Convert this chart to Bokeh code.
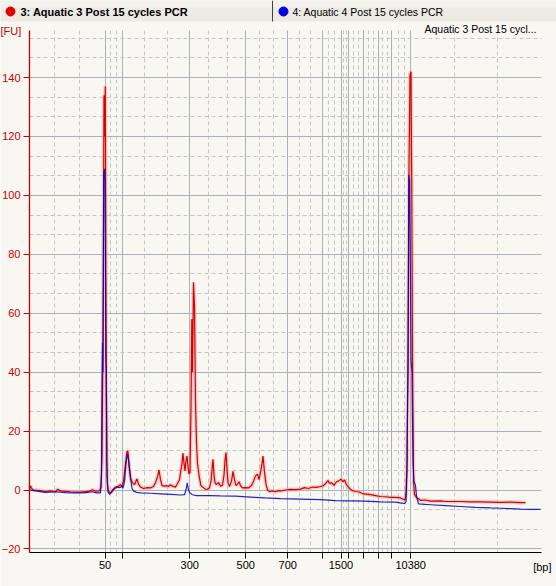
from bokeh.plotting import figure
from bokeh.models import FixedTicker, Range1d, CustomJSTickFormatter
from bokeh.embed import file_html
from bokeh.resources import INLINE
from bokeh.core.properties import value

# ---------------- data ----------------
# migration time in arbitrary units (time axis of the electropherogram)
ladder_time = [104.5, 121.5, 189.2, 245.3, 287.3, 321.7, 340.5, 348.3, 362.7, 377.5, 391.2, 410.2]
ladder_bp = ["50", "100", "300", "500", "700", "1000", "1500", "2000", "3000", "5000", "7000", "10380"]
shown_bp = ["50", "300", "500", "700", "1500", "10380"]

fu_ticks = [-20, 0, 20, 40, 60, 80, 100, 120, 140]

red_time = [29, 30, 31, 33, 40, 45, 50, 55, 57, 60, 70, 80, 88, 92, 95, 99,
            100.5, 101.5, 102.5, 103.5, 104.2, 104.8, 105.5, 106.3, 107, 108, 110, 112, 115, 118, 120,
            121.5, 123, 125, 126.5, 127.5, 128.5, 130, 132, 134, 136.5, 138, 140, 143, 147, 150, 153,
            155, 157, 158.5, 160, 161.5, 164, 166, 168, 170, 172, 175, 177, 179, 180.5, 181.5, 182.5,
            183.5, 184.5, 185.5, 186.5, 187.5, 188.5, 189.5, 190.5, 191.3, 192, 193, 194, 195, 196, 197,
            198.5, 200.5, 203, 205, 207, 209, 210.5, 211.5, 212.5, 213.5, 214.5, 216, 218, 220, 222,
            223.5, 224.5, 225.5, 226.5, 227.5, 229, 231, 232.5, 234, 235.5, 237, 238.5, 240, 242, 245,
            248, 251, 253, 255, 257, 258.5, 260, 261.5, 262.5, 264, 265.5, 267, 269, 272, 275, 278, 281,
            285, 290, 295, 300, 304, 308, 312, 316, 320, 323, 325, 327.5, 329, 331, 333.5, 336, 338,
            340.5, 342.5, 344, 346, 348, 350, 352, 355, 358, 362, 366, 370, 375, 380, 385, 390, 395, 400,
            403, 404.5, 405.5, 406.5, 407.5, 408.5, 409.5, 410.5, 411.3, 412, 413, 414, 416, 418, 420,
            425, 430, 440, 445, 450, 460, 470, 480, 490, 500, 510, 520, 525]
red_fu = [0.3, 1.5, 0.5, 0.0, -0.2, -0.5, -0.3, -0.6, 0.2, -0.3, -0.6, -0.7, -0.5, 0.1, -0.4, -0.3,
          1.0, 12.0, 50.0, 134.0, 120.0, 137.0, 60.0, 10.0, 1.5, -0.5, -1.0, 0.0, 1.0, 1.3, 1.8,
          1.2, 3.0, 9.0, 13.2, 13.0, 8.0, 4.0, 2.5, 1.8, 3.8, 2.0, 1.0, 0.5, 0.8, 0.7, 1.2,
          2.5, 4.5, 6.8, 3.5, 1.5, 1.3, 1.5, 1.2, 1.8, 1.3, 1.0, 2.2, 3.5, 7.0, 9.0, 12.5,
          9.0, 6.5, 10.0, 11.5, 8.0, 5.5, 6.0, 28.0, 58.0, 40.0, 70.5, 62.0, 30.0, 16.0, 9.0,
          5.0, 1.4, 0.8, 0.2, 0.3, 0.7, 3.0, 7.0, 10.4, 5.0, 2.5, 1.8, 2.6, 1.3, 1.6,
          5.0, 10.0, 12.7, 7.0, 2.5, 1.2, 3.0, 6.3, 3.5, 1.5, 2.0, 2.8, 1.5, 0.7, 0.8,
          0.7, 1.5, 3.0, 4.8, 5.4, 3.5, 6.0, 9.0, 11.5, 6.0, 2.0, 0.0, -0.5, -0.3, -0.6, -0.2, -0.3,
          0.0, 0.2, 0.1, 0.3, 0.8, 0.5, 1.0, 0.9, 1.2, 1.5, 2.2, 3.2, 2.2, 2.5, 1.6, 2.8, 3.0,
          3.7, 2.8, 3.4, 1.8, 1.0, 0.2, -0.2, -0.5, -0.6, -1.2, -1.4, -1.6, -1.9, -2.2, -2.3, -2.5, -2.5, -2.7,
          -3.2, -3.4, -1.0, 10.0, 40.0, 110.0, 141.0, 142.0, 100.0, 45.0, 3.0, -1.5, -2.6, -3.0, -3.5,
          -3.4, -3.8, -3.7, -3.9, -3.9, -3.9, -4.0, -4.0, -4.1, -4.2, -4.1, -4.3, -4.3]

blue_time = [29, 35, 45, 55, 65, 75, 85, 92, 96, 100, 101, 101.5, 102, 102.5, 103.3, 104, 104.6,
             105.3, 105.8, 106.5, 107.5, 109, 111, 114, 117, 119, 121, 122.5, 124, 125.5, 127, 128.3,
             129.5, 130.5, 131.5, 133, 136, 140, 150, 160, 170, 180, 184, 185.5, 186.7, 188, 189.5,
             192, 196, 210, 220, 235, 250, 265, 280, 300, 320, 335, 350, 365, 380, 395, 404, 405.5,
             406.5, 407, 407.5, 408.3, 409, 409.8, 410.5, 411.5, 412.5, 413.5, 415, 416, 418, 425,
             430, 445, 460, 475, 490, 500, 510, 520, 530, 540]
blue_fu = [0.0, -0.3, -0.8, -0.6, -0.9, -1.0, -0.9, -0.6, -1.0, -1.0, 5.0, 37.0, 50.0, 40.0, 108.0, 109.0, 105.0,
           45.0, 40.0, 5.0, -0.5, -1.5, -0.8, 0.5, 1.0, 0.8, 1.2, 0.6, 3.0, 9.0, 12.3, 10.0,
           6.0, 3.0, 0.5, -0.3, -0.8, -1.0, -1.1, -1.3, -1.5, -1.7, -1.6, 0.0, 2.4, 0.0, -1.0,
           -1.6, -1.9, -1.9, -2.0, -2.1, -2.4, -2.7, -2.9, -3.1, -3.3, -3.6, -3.7, -3.8, -4.0, -4.1, -4.6, -4.0,
           6.0, 30.0, 42.0, 107.0, 105.0, 80.0, 44.0, 40.0, 10.0, 3.0, 1.5, -2.0, -4.7, -4.9,
           -5.0, -5.3, -5.6, -5.9, -6.1, -6.2, -6.3, -6.5, -6.6, -6.6]

tab_labels = ["3: Aquatic 3 Post 15 cycles PCR", "4: Aquatic 4 Post 15 cycles PCR"]
panel_title = "Aquatic 3 Post 15 cycl..."

# ---------------- layout / style ----------------
W, H = 556, 586
PX_PER_FU = 2.946
ZERO_Y = 489.5


def fy(py):
    """vertical page position (px from top) -> FU value"""
    return (ZERO_Y - py) / PX_PER_FU


X0, X1 = 29, 541            # plot area (time units)
YB0, YB1 = fy(552), fy(30)  # plot area (FU)

FONT = "Liberation Sans"
RED = "#D60000"
AXIS_RED = "#C80000"
BLUE = "#0000B8"
BG = "#F8F7F2"
TAB_BG = "#ECEAE3"

# minor (dashed) grid positions: thirds between neighbouring major lines
xb = [X0] + ladder_time + [X1]
x_minor = []
for a, b in zip(xb[:-1], xb[1:]):
    x_minor += [a + (b - a) / 3.0, a + 2 * (b - a) / 3.0]
yb = fu_ticks + [160]
y_minor = []
for a, b in zip(yb[:-1], yb[1:]):
    y_minor += [a + (b - a) / 3.0, a + 2 * (b - a) / 3.0]
y_minor = [v for v in y_minor if v < YB1]

p = figure(width=W, height=H, x_range=Range1d(0, W), y_range=Range1d(fy(H), fy(0)),
           output_backend="svg", toolbar_location=None,
           min_border=0, min_border_left=0, min_border_right=0,
           min_border_top=0, min_border_bottom=0)
p.outline_line_color = None
p.background_fill_color = BG
p.border_fill_color = BG

xt = FixedTicker(ticks=ladder_time, minor_ticks=x_minor)
yt = FixedTicker(ticks=fu_ticks, minor_ticks=y_minor)
p.xaxis.ticker = xt
p.xgrid.ticker = xt
p.yaxis.ticker = yt
p.ygrid.ticker = yt

p.xaxis.fixed_location = YB0
p.yaxis.fixed_location = X0
p.xaxis.bounds = (X0, X1)
p.yaxis.bounds = (YB0, YB1)
p.xgrid.bounds = (X0, X1)
p.xgrid.cross_bounds = (YB0, YB1)
p.ygrid.bounds = (YB0, YB1)
p.ygrid.cross_bounds = (X0, X1)

labels = [b if b in shown_bp else "" for b in ladder_bp]
p.xaxis.formatter = CustomJSTickFormatter(args=dict(lpos=ladder_time, labs=labels), code="""
    let best = 0, d = 1e9;
    for (let i = 0; i < lpos.length; i++) {
        const dd = Math.abs(lpos[i] - tick);
        if (dd < d) { d = dd; best = i; }
    }
    return d < 0.5 ? labs[best] : "";
""")

for g in (p.xgrid, p.ygrid):
    g.grid_line_color = "#A9B1BD"
    g.grid_line_width = 1
    g.minor_grid_line_color = "#C6C6C2"
    g.minor_grid_line_dash = "4 3"
    g.minor_grid_line_width = 1

p.xaxis.axis_line_color = "black"
p.xaxis.major_tick_line_color = "black"
p.xaxis.major_tick_out = 6
p.xaxis.major_tick_in = 0
p.xaxis.minor_tick_line_color = None
p.xaxis.major_label_text_font = FONT
p.xaxis.major_label_text_font_size = "11px"
p.xaxis.major_label_text_color = "black"
p.xaxis.major_label_standoff = 2

p.yaxis.axis_line_color = AXIS_RED
p.yaxis.axis_line_width = 1.3
p.yaxis.major_tick_line_color = AXIS_RED
p.yaxis.major_tick_out = 6
p.yaxis.major_tick_in = 0
p.yaxis.minor_tick_line_color = None
p.yaxis.major_label_text_font = FONT
p.yaxis.major_label_text_font_size = "11px"
p.yaxis.major_label_text_color = AXIS_RED
p.yaxis.major_label_standoff = 3

# traces
p.line(red_time, red_fu, line_color="#F29A9A", line_width=4, line_alpha=0.45)
p.line(red_time, red_fu, line_color=RED, line_width=1.2)
p.line(blue_time, blue_fu, line_color=BLUE, line_width=1.2, line_alpha=0.85)

# tab bar at the top
p.quad(left=[0], right=[W], top=[fy(0)], bottom=[fy(21)], fill_color=TAB_BG, line_color=None)
p.quad(left=[0], right=[W], top=[fy(0)], bottom=[fy(7)], fill_color="#F2F1EC", line_color=None)
p.segment(x0=[272], y0=[fy(0)], x1=[272], y1=[fy(21)], line_color="#404040", line_width=1)
p.scatter(x=[10, 283], y=[fy(11), fy(11)], size=9, color=["#E00000", "#0000E0"])
p.text(x=[20], y=[fy(11)], text=[tab_labels[0]], text_font=value(FONT),
       text_font_size="11px", text_font_style="bold", text_baseline="middle", text_color="black")
p.text(x=[292], y=[fy(11)], text=[tab_labels[1]], text_font=value(FONT),
       text_font_size="10.5px", text_baseline="middle", text_color="black")

# axis captions and panel title
p.text(x=[0], y=[fy(30)], text=["[FU]"], text_font=value(FONT), text_font_size="11px",
       text_color=AXIS_RED, text_baseline="middle", text_align="left")
p.text(x=[551], y=[fy(566.5)], text=["[bp]"], text_font=value(FONT), text_font_size="11px",
       text_color="black", text_baseline="middle", text_align="right")
p.text(x=[536], y=[fy(28)], text=[panel_title], text_font=value(FONT),
       text_font_size="10.5px", text_color="black", text_baseline="middle", text_align="right")

open("out.html", "w").write(file_html(p, INLINE))
